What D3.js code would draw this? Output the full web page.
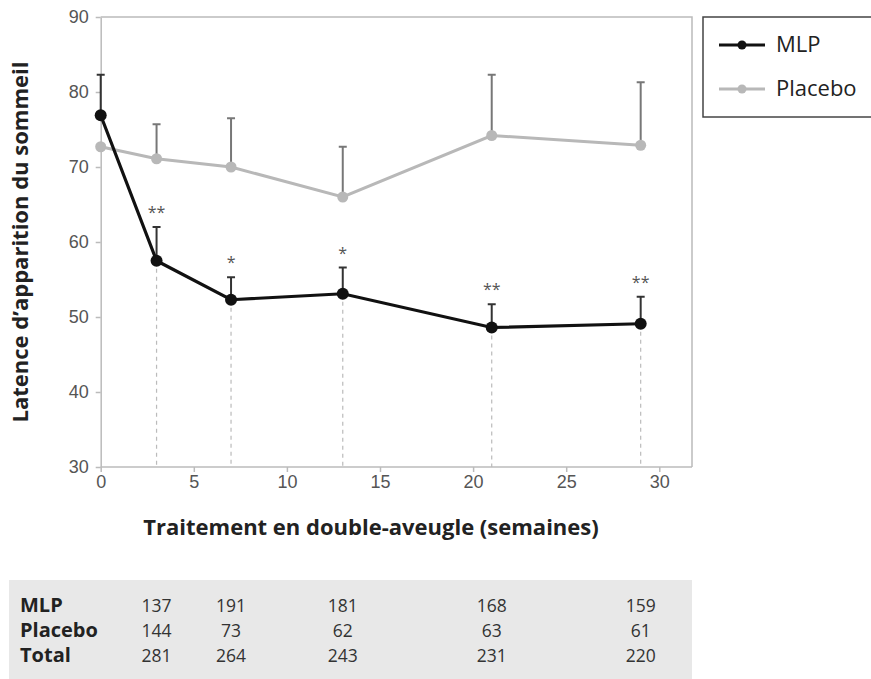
<!DOCTYPE html>
<meta charset="utf-8">
<head>
  <script src="https://d3js.org/d3.v7.min.js"></script>
</head>
<style>
body {
  margin: 0;
  background: white;
  font-family: "Open Sans", sans-serif;
}
.axis text {
  font-size: 18px;
  fill: #555;
}
.axis path, .axis line {
  stroke: #bbb;
  stroke-width: 1.5;
}
.row-label {
  font-weight: bold;
}
</style>
<body>
<svg width="871" height="679" id="container"></svg>
<script>

// time points (weeks)
var weeks = [0, 3, 7, 13, 21, 29];

// sleep onset latency, mean and upper error
var mlpMean = [76.9, 57.5, 52.3, 53.1, 48.6, 49.1];
var mlpErr  = [82.3, 62.0, 55.3, 56.6, 51.7, 52.7];
var placeboMean = [72.7, 71.1, 70.0, 66.0, 74.2, 72.9];
var placeboErr  = [72.7, 75.7, 76.5, 72.7, 82.3, 81.3];
var stars = ['', '**', '*', '*', '**', '**'];

// patients table
var tableWeeks = [3, 7, 13, 21, 29];
var tableRows = ['MLP', 'Placebo', 'Total'];
var mlpN = [137, 191, 181, 168, 159];
var placeboN = [144, 73, 62, 63, 61];
var totalN = [281, 264, 243, 231, 220];

var svg = d3.select('#container');

var xScale = d3.scaleLinear().domain([0, 30]).range([100.7, 659.3]);
var yScale = d3.scaleLinear().domain([30, 90]).range([467, 17]);
var frameRight = 692;

// frame (top and right sides)
svg.append('path')
   .attr('d', 'M' + xScale(0) + ',' + yScale(90) + 'H' + frameRight + 'V' + yScale(30))
   .attr('fill', 'none')
   .attr('stroke', '#bbb')
   .attr('stroke-width', 1.5);

var xAxis = svg.append('g')
   .attr('class', 'axis')
   .attr('transform', 'translate(0,' + yScale(30) + ')')
   .call(d3.axisBottom(xScale).tickValues([0, 5, 10, 15, 20, 25, 30]).tickSize(5).tickSizeOuter(0).tickPadding(3));
xAxis.select('.domain').attr('d', 'M' + xScale(0) + ',0H' + frameRight);

var yAxis = svg.append('g')
   .attr('class', 'axis')
   .attr('transform', 'translate(' + xScale(0) + ',0)')
   .call(d3.axisLeft(yScale).tickValues([30, 40, 50, 60, 70, 80, 90]).tickSize(5).tickSizeOuter(0).tickPadding(7));

// axis titles
svg.append('text')
   .attr('x', 371).attr('y', 535)
   .attr('text-anchor', 'middle')
   .attr('font-weight', 'bold')
   .attr('font-size', '22px')
   .attr('fill', '#222')
   .text('Traitement en double-aveugle (semaines)');

svg.append('text')
   .attr('transform', 'translate(28,242) rotate(-90)')
   .attr('text-anchor', 'middle')
   .attr('font-weight', 'bold')
   .attr('font-size', '22px')
   .attr('fill', '#222')
   .text('Latence d\u2019apparition du sommeil');

// dashed guides under MLP points
weeks.forEach(function(w, i) {
  if (i == 0) return;
  svg.append('line')
     .attr('x1', xScale(w)).attr('x2', xScale(w))
     .attr('y1', yScale(mlpMean[i])).attr('y2', yScale(30))
     .attr('stroke', '#bbb')
     .attr('stroke-width', 1.2)
     .attr('stroke-dasharray', '4,4');
});

function drawSeries(means, errs, color, errColor, width, r) {
  weeks.forEach(function(w, i) {
    if (errs[i] <= means[i]) return;
    svg.append('line')
       .attr('x1', xScale(w)).attr('x2', xScale(w))
       .attr('y1', yScale(means[i])).attr('y2', yScale(errs[i]))
       .attr('stroke', errColor).attr('stroke-width', 2);
    svg.append('line')
       .attr('x1', xScale(w) - 4).attr('x2', xScale(w) + 4)
       .attr('y1', yScale(errs[i])).attr('y2', yScale(errs[i]))
       .attr('stroke', errColor).attr('stroke-width', 2);
  });
  var line = d3.line()
    .x(function(d, i) { return xScale(weeks[i]); })
    .y(function(d) { return yScale(d); });
  svg.append('path')
     .datum(means)
     .attr('d', line)
     .attr('fill', 'none')
     .attr('stroke', color)
     .attr('stroke-width', width);
  svg.selectAll(null)
     .data(means)
     .enter()
     .append('circle')
     .attr('cx', function(d, i) { return xScale(weeks[i]); })
     .attr('cy', function(d) { return yScale(d); })
     .attr('r', r)
     .attr('fill', color);
}

drawSeries(placeboMean, placeboErr, '#b8b8b8', '#777', 3, 5.5);
drawSeries(mlpMean, mlpErr, '#111', '#333', 3.2, 6);

// significance stars
svg.selectAll('.star')
   .data(stars)
   .enter()
   .append('text')
   .attr('class', 'star')
   .attr('x', function(d, i) { return xScale(weeks[i]); })
   .attr('y', function(d, i) { return yScale(mlpErr[i]) - 9; })
   .attr('text-anchor', 'middle')
   .attr('font-size', '16px')
   .attr('fill', '#555')
   .text(function(d) { return d; });

// legend
var legend = svg.append('g');
legend.append('rect')
      .attr('x', 703).attr('y', 17)
      .attr('width', 175).attr('height', 100)
      .attr('fill', 'white')
      .attr('stroke', '#444')
      .attr('stroke-width', 1.5);
var legendItems = [
  {name: 'MLP', color: '#111'},
  {name: 'Placebo', color: '#b8b8b8'}
];
legendItems.forEach(function(item, i) {
  var y = 45 + i * 44;
  legend.append('line')
        .attr('x1', 719).attr('x2', 765)
        .attr('y1', y).attr('y2', y)
        .attr('stroke', item.color).attr('stroke-width', 3);
  legend.append('circle')
        .attr('cx', 742).attr('cy', y).attr('r', 4.5)
        .attr('fill', item.color);
  legend.append('text')
        .attr('x', 776).attr('y', y + 7)
        .attr('font-size', '22px')
        .attr('fill', '#222')
        .text(item.name);
});

// patient count table
svg.append('rect')
   .attr('x', 9).attr('y', 580)
   .attr('width', 683).attr('height', 99)
   .attr('fill', '#e8e8e8');

var tableData = [mlpN, placeboN, totalN];
tableRows.forEach(function(name, r) {
  var y = 612 + r * 25;
  svg.append('text')
     .attr('class', 'row-label')
     .attr('x', 20).attr('y', y)
     .attr('font-size', '20px')
     .attr('fill', '#222')
     .text(name);
  svg.selectAll(null)
     .data(tableData[r])
     .enter()
     .append('text')
     .attr('x', function(d, i) { return xScale(tableWeeks[i]); })
     .attr('y', y)
     .attr('text-anchor', 'middle')
     .attr('font-size', '17.5px')
     .attr('fill', '#333')
     .text(function(d) { return d; });
});

</script>
</body>
